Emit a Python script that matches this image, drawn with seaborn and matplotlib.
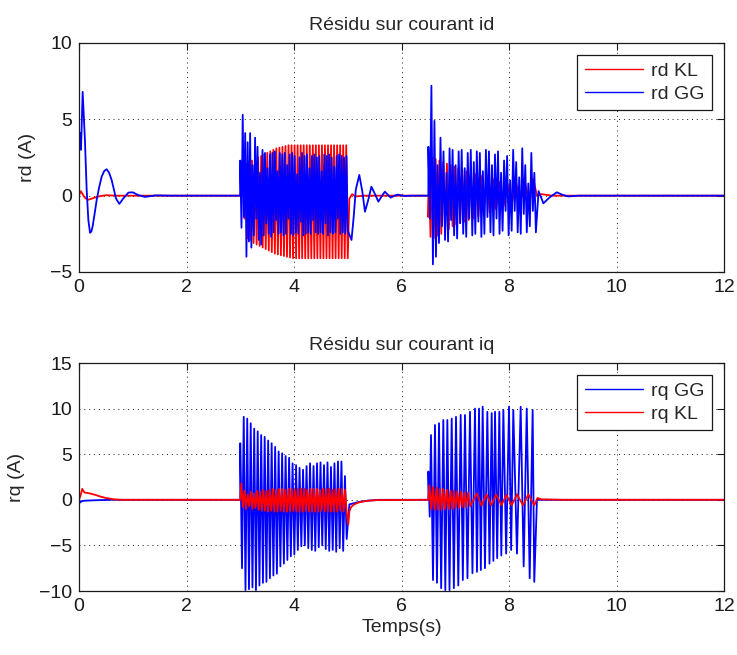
import numpy as np
import pandas as pd
import matplotlib
matplotlib.use("Agg")
import matplotlib.pyplot as plt
import seaborn as sns

# ---------------- rd : residual on current id ----------------
# rd KL (red)
rdkl_pre_t = [0, 0.03, 0.06, 0.1, 0.16, 0.25, 0.35, 0.5, 0.7, 3.0]
rdkl_pre_v = [0, 0.3, 0.15, -0.1, -0.28, -0.18, -0.06, 0.03, 0, 0]
rdkl_b1_span = (3.05, 5.0)
rdkl_b1_high = [1.6, 2.1, 2.2, 2.3, 2.4, 2.5, 2.6, 2.7, 2.8, 2.9, 3.0, 3.1, 3.15, 3.2, 3.25, 3.3, 3.3, 3.3,
                3.3, 3.3, 3.3, 3.3, 3.3, 3.3, 3.3, 3.3, 3.3, 3.3, 3.3, 3.3, 3.3, 3.3, 3.3, 3.3, 3.3]
rdkl_b1_low = [-1.5, -2.8, -2.9, -3.1, -3.2, -3.3, -3.4, -3.5, -3.6, -3.7, -3.8, -3.85, -3.9, -3.95, -4.0, -4.05,
               -4.1, -4.1, -4.1, -4.1, -4.1, -4.1, -4.1, -4.1, -4.1, -4.1, -4.1, -4.1, -4.1, -4.1, -4.1, -4.1,
               -4.1, -4.1, -4.1]
rdkl_mid_t = [5.03, 5.08, 5.15, 5.3, 6.5]
rdkl_mid_v = [-0.2, 0.1, -0.05, 0, 0]
rdkl_b2_t = [6.50, 6.515, 6.54, 6.57, 6.60, 6.635, 6.67, 6.705, 6.74, 6.775, 6.81, 6.845, 6.88, 6.915, 6.95,
             6.985, 7.02, 7.055, 7.09, 7.13, 7.17, 7.21, 7.25, 7.29, 7.33, 7.38, 7.43, 7.48, 7.53, 7.58, 7.64,
             7.70, 7.76, 7.83, 7.90, 7.97, 8.05, 8.13, 8.21, 8.29, 8.37, 8.45, 8.52]
rdkl_b2_v = [-1.4, 0.8, -2.7, 2.5, -2.8, 2.4, -2.6, 2.3, -2.5, 2.2, -2.3, 2.1, -2.2, 2.0, -2.0, 1.9, -1.9,
             1.8, -1.8, 1.7, -1.7, 1.6, -1.6, 1.5, -1.5, 1.4, -1.4, 1.3, -1.3, 1.2, -1.1, 1.1, -0.9, 0.9, -0.7,
             0.8, -0.6, 0.9, -0.5, 1.0, -0.4, 1.1, 0.0]
rdkl_end_t = [8.6, 8.8, 12]
rdkl_end_v = [0.1, 0.0, 0.0]

# rd GG (blue)
rdgg_pre_t = [0, 0.02, 0.037, 0.068, 0.11, 0.143, 0.174, 0.205, 0.23, 0.254, 0.29, 0.329, 0.375, 0.422,
              0.47, 0.515, 0.56, 0.608, 0.65, 0.688, 0.75, 0.825, 0.918, 1.0, 1.1, 1.23, 1.43, 1.7, 3.0]
rdgg_pre_v = [4.0, 4.1, 3.0, 6.8, 3.65, 0.37, -1.6, -2.43, -2.35, -2.0, -1.2, -0.28, 0.55, 1.25, 1.62,
              1.73, 1.5, 1.02, 0.4, -0.18, -0.54, -0.18, 0.2, 0.22, 0.04, -0.08, 0.02, 0, 0]
rdgg_b1_span = (3.0, 5.0)
rdgg_b1_high = [2.3, 5.3, 4.1, 3.5, 4.1, 2.0, 3.8, 3.2, 1.5, 3.0, 2.8, 1.8, 2.7, 2.8, 2.9, 1.6, 2.8, 2.7,
                2.8, 2.0, 2.7, 2.8, 2.6, 1.4, 2.5, 2.8, 2.6, 2.7, 1.8, 2.6, 2.7, 2.5, 2.6, 1.6, 2.7, 2.6,
                2.7, 2.5, 1.9, 2.6, 2.7, 2.6, 2.5, 2.6]
rdgg_b1_low = [-2.1, -1.4, -4.0, -3.0, -3.4, -2.6, -1.5, -2.9, -3.2, -2.6, -1.8, -2.5, -2.7, -2.4, -1.6,
               -2.5, -2.4, -2.6, -2.5, -1.5, -2.5, -2.6, -2.4, -2.5, -1.7, -2.6, -2.5, -2.4, -2.5, -1.6,
               -2.4, -2.5, -2.4, -2.5, -1.8, -2.6, -2.4, -2.5, -2.4, -1.5, -2.5, -2.4, -2.5, -2.3]
rdgg_mid_t = [5.07, 5.11, 5.15, 5.215, 5.27, 5.32, 5.38, 5.44, 5.50, 5.57, 5.63, 5.69, 5.75, 5.80, 5.87,
              5.93, 6.05, 6.2, 6.5]
rdgg_mid_v = [-2.9, -1.4, 0.4, 1.36, 0.3, -1.05, -0.3, 0.59, 0.15, -0.39, -0.05, 0.26, 0.05, -0.13, 0.0,
              0.07, -0.02, 0, 0]
rdgg_b2_span = (6.5, 8.5)
rdgg_b2_high = [3.2, 7.2, 4.9, 2.0, 3.8, 2.9, 1.5, 3.1, 3.0, 2.0, 2.9, 3.0, 1.8, 2.8, 3.0, 2.2, 2.9, 2.8,
                1.6, 3.0, 2.9, 2.0, 2.7, 2.9, 1.5, 2.3, 2.6, 1.0, 3.0, 2.2, 1.2, 3.1, 2.0, 0.8, 2.8, 1.5]
rdgg_b2_low = [-1.5, -4.5, -4.0, -3.1, -2.0, -2.9, -3.0, -1.6, -2.6, -2.8, -1.8, -2.5, -2.7, -1.5, -2.6,
               -2.5, -1.7, -2.7, -2.5, -1.4, -2.4, -2.6, -1.5, -2.5, -2.3, -1.0, -2.6, -2.3, -1.0, -2.4,
               -2.5, -1.2, -2.4, -2.0, -1.0, -2.4]
rdgg_end_t = [8.55, 8.64, 8.76, 8.89, 9.0, 9.1, 9.3, 12]
rdgg_end_v = [0.3, -0.5, -0.1, 0.22, 0.05, -0.05, 0, 0]

# ---------------- rq : residual on current iq ----------------
# rq GG (blue)
rqgg_pre_t = [0, 0.02, 0.05, 0.1, 0.3, 0.6, 3.0]
rqgg_pre_v = [0, -0.3, -0.15, -0.1, -0.05, 0, 0]
rqgg_b1_span = (3.0, 4.98)
rqgg_b1_high = [6.2, 9.1, 8.9, 8.4, 7.8, 7.5, 7.1, 6.9, 6.5, 6.2, 5.8, 5.3, 5.1, 4.8, 4.6, 4.0, 3.8, 3.5,
                3.3, 3.7, 4.0, 3.7, 4.0, 4.1, 3.8, 4.1, 3.6, 4.0, 4.2, 4.2, 2.6]
rqgg_b1_low = [-7.5, -9.9, -9.8, -9.6, -9.9, -9.4, -9.1, -9.0, -8.6, -8.3, -8.1, -7.3, -7.0, -6.6, -6.2,
               -6.0, -5.5, -5.1, -5.0, -5.3, -5.5, -5.6, -5.2, -5.0, -5.4, -5.6, -5.5, -5.7, -5.3, -5.6, -4.3]
rqgg_mid_t = [5.03, 5.1, 5.2, 5.35, 5.6, 6.5]
rqgg_mid_v = [-0.5, -0.4, -0.25, -0.1, 0, 0]
rqgg_b2_t = [6.50, 6.525, 6.549, 6.586, 6.623, 6.66, 6.698, 6.738, 6.778, 6.815, 6.853, 6.893, 6.934, 6.974,
             7.014, 7.057, 7.101, 7.141, 7.181, 7.227, 7.274, 7.32, 7.367, 7.404, 7.442, 7.476, 7.51, 7.553,
             7.597, 7.637, 7.678, 7.709, 7.74, 7.78, 7.82, 7.857, 7.895, 7.947, 8.0, 8.04, 8.08, 8.148, 8.217,
             8.273, 8.33, 8.385, 8.44, 8.47]
rqgg_b2_v = [3.1, -1.85, 7.1, -8.8, 8.2, -9.1, 8.4, -9.7, 8.75, -9.9, 8.75, -9.9, 8.9, -9.7, 9.1, -9.4,
             9.3, -8.8, 9.3, -8.6, 9.65, -8.05, 10.0, -7.9, 10.0, -7.7, 10.2, -7.5, 9.65, -7.0, 9.5, -6.7,
             9.65, -6.4, 9.65, -6.1, 9.85, -5.9, 10.2, -5.5, 9.85, -5.9, 10.2, -7.3, 10.0, -8.6, 9.85, -9.0]
rqgg_end_t = [8.52, 12]
rqgg_end_v = [0, 0]

# rq KL (red)
rqkl_pre_t = [0, 0.03, 0.06, 0.1, 0.2, 0.3, 0.4, 0.5, 0.65, 0.8, 3.0]
rqkl_pre_v = [0, 0.5, 1.2, 0.8, 0.7, 0.55, 0.35, 0.2, 0.05, 0, 0]
rqkl_b1_span = (3.02, 4.98)
rqkl_b1_high = [1.8, 1.0, 0.6, 0.9, 0.7, 1.0, 0.9, 1.1, 1.0, 1.1, 1.2, 1.1, 1.2, 1.2, 1.1, 1.2, 1.2,
                1.1, 1.2, 1.2, 1.2, 1.1, 1.2, 1.2, 1.2, 1.1, 1.2, 1.2, 1.2, 1.1, 1.2, 1.2, 1.2, 1.1]
rqkl_b1_low = [-0.8, -1.0, -0.7, -1.0, -0.9, -1.1, -1.2, -1.2, -1.3, -1.2, -1.3, -1.3, -1.2, -1.3, -1.3,
               -1.3, -1.2, -1.3, -1.3, -1.3, -1.2, -1.3, -1.3, -1.3, -1.3, -1.2, -1.3, -1.3, -1.3, -1.3,
               -1.3, -1.2, -1.3, -1.4]
rqkl_mid_t = [5.01, 5.03, 5.06, 5.12, 5.2, 5.35, 5.55, 6.5]
rqkl_mid_v = [-2.7, -1.3, -0.8, -0.5, -0.3, -0.12, -0.03, 0]
rqkl_b2_t = [6.50, 6.52, 6.55, 6.585, 6.615, 6.65, 6.68, 6.715, 6.745, 6.78, 6.81, 6.845, 6.875, 6.91,
             6.94, 6.975, 7.005, 7.04, 7.07, 7.105, 7.135, 7.17, 7.20, 7.24, 7.28, 7.40, 7.49, 7.58, 7.67,
             7.76, 7.86, 7.95, 8.05, 8.15, 8.26, 8.36, 8.47, 8.53, 8.6, 9.0]
rqkl_b2_v = [0.0, 1.6, -1.0, 1.4, -1.1, 1.3, -1.1, 1.2, -1.1, 1.2, -1.0, 1.1, -1.0, 1.0, -1.0, 1.0, -0.9,
             0.9, -0.9, 0.9, -0.8, 0.8, -0.8, 0.8, -0.7, 0.7, -0.65, 0.6, -0.6, 0.6, -0.6, 0.55, -0.6, 0.6,
             -0.6, 0.6, -0.6, 0.2, 0.05, 0.0]
rqkl_end_t = [12]
rqkl_end_v = [0]


def zigzag(span, highs, lows):
    # alternating maxima / minima of a burst, evenly spread over its time span
    t = np.linspace(span[0], span[1], 2 * len(highs))
    v = np.empty(2 * len(highs))
    v[0::2] = highs
    v[1::2] = lows
    return list(t), list(v)


def series(*parts):
    t, v = [], []
    for pt, pv in parts:
        t += list(pt)
        v += list(pv)
    return pd.DataFrame({"t": t, "v": v})


rd_kl = series((rdkl_pre_t, rdkl_pre_v), zigzag(rdkl_b1_span, rdkl_b1_high, rdkl_b1_low),
               (rdkl_mid_t, rdkl_mid_v), (rdkl_b2_t, rdkl_b2_v), (rdkl_end_t, rdkl_end_v))
rd_gg = series((rdgg_pre_t, rdgg_pre_v), zigzag(rdgg_b1_span, rdgg_b1_high, rdgg_b1_low),
               (rdgg_mid_t, rdgg_mid_v), zigzag(rdgg_b2_span, rdgg_b2_high, rdgg_b2_low),
               (rdgg_end_t, rdgg_end_v))
rq_gg = series((rqgg_pre_t, rqgg_pre_v), zigzag(rqgg_b1_span, rqgg_b1_high, rqgg_b1_low),
               (rqgg_mid_t, rqgg_mid_v), (rqgg_b2_t, rqgg_b2_v), (rqgg_end_t, rqgg_end_v))
rq_kl = series((rqkl_pre_t, rqkl_pre_v), zigzag(rqkl_b1_span, rqkl_b1_high, rqkl_b1_low),
               (rqkl_mid_t, rqkl_mid_v), (rqkl_b2_t, rqkl_b2_v), (rqkl_end_t, rqkl_end_v))

sns.set_theme(style="white")
plt.rcParams["font.family"] = ["Liberation Sans", "DejaVu Sans"]
FS = 14

fig = plt.figure(figsize=(7.37, 6.55), dpi=100)
ax1 = fig.add_axes([79 / 737, 1 - 272 / 655, 645 / 737, 229 / 655])
ax2 = fig.add_axes([79 / 737, 1 - 591 / 655, 645 / 737, 228 / 655])

LW = 1.3
sns.lineplot(data=rd_kl, x="t", y="v", sort=False, estimator=None, color="#ff0000", lw=LW, label="rd KL", ax=ax1)
sns.lineplot(data=rd_gg, x="t", y="v", sort=False, estimator=None, color="#0000ff", lw=LW, label="rd GG", ax=ax1)
sns.lineplot(data=rq_gg, x="t", y="v", sort=False, estimator=None, color="#0000ff", lw=LW, label="rq GG", ax=ax2)
sns.lineplot(data=rq_kl, x="t", y="v", sort=False, estimator=None, color="#ff0000", lw=LW, label="rq KL", ax=ax2)

for ax, title, ylab, ylim in [(ax1, "Résidu sur courant id", "rd (A)", (-5, 10)),
                              (ax2, "Résidu sur courant iq", "rq (A)", (-10, 15))]:
    ax.set_xlim(0, 12)
    ax.set_ylim(*ylim)
    ax.set_xticks(range(0, 13, 2))
    ax.set_yticks(range(ylim[0], ylim[1] + 1, 5))
    ax.grid(True, ls=(0, (1, 4)), color="k", lw=0.7)
    ax.tick_params(direction="in", top=True, right=True, length=5, width=0.8,
                   labelsize=FS, colors="k", pad=5)
    for s in ax.spines.values():
        s.set_visible(True)
        s.set_color("k")
        s.set_linewidth(0.9)
    ax.set_title(title, fontsize=FS, pad=9)
    ax.set_ylabel(ylab, fontsize=FS, labelpad=10)
    ax.set_xlabel("")
    leg = ax.legend(loc="upper right", fontsize=FS, fancybox=False, framealpha=1, edgecolor="k",
                    borderaxespad=0.6, handlelength=3.0, handletextpad=0.4, labelspacing=0.25,
                    borderpad=0.4)
    leg.get_frame().set_linewidth(0.9)
    for ln in leg.get_lines():
        ln.set_linewidth(1.0)

ax2.set_xlabel("Temps(s)", fontsize=FS, labelpad=3)

fig.savefig("out.png", dpi=100)
